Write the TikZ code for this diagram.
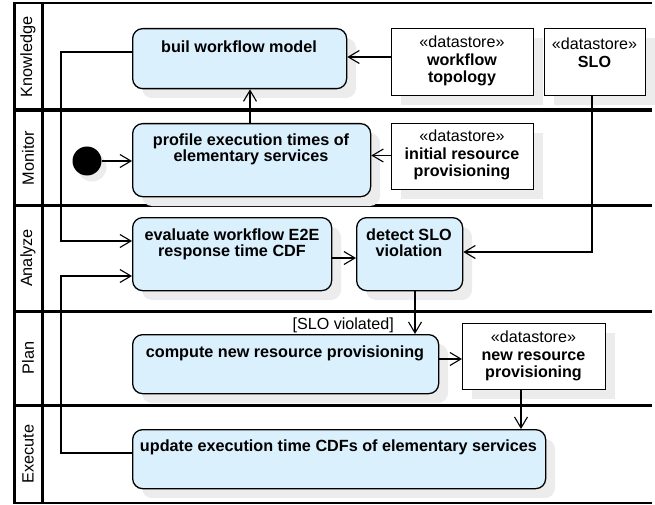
\documentclass[tikz,border=0pt]{standalone}
\usepackage{fontspec}
\setmainfont{Liberation Sans}
\usetikzlibrary{arrows.meta}
\definecolor{actfill}{RGB}{218,240,253}
\definecolor{shad}{RGB}{236,236,236}
\begin{document}
\begin{tikzpicture}[x=1pt,y=-1pt,
 act/.style={draw=black, line width=1.3pt, fill=actfill, rounded corners=10pt, inner sep=0pt, anchor=north west},
 store/.style={draw=black, line width=1.3pt, fill=white, inner sep=0pt, anchor=north west},
 shadowr/.style={fill=shad, rounded corners=10pt},
 shadows/.style={fill=shad},
 conn/.style={line width=1.1pt, -{Straight Barb[length=11pt,width=13pt,line width=1.1pt]}},
 lane/.style={line width=3pt},
 txt/.style={font=\fontsize{16.2}{16}\selectfont\bfseries, align=center, inner sep=0pt},
 stxt/.style={font=\fontsize{16.1}{17.5}\selectfont, align=center, inner sep=0pt},
 lanelbl/.style={font=\fontsize{16.3}{17}\selectfont, rotate=90, inner sep=0pt}
]
\useasboundingbox (0,0) rectangle (655,505);

% lanes
\draw[line width=2pt] (13,3) -- (652,3);
\draw[line width=2pt] (13,503) -- (652,503);
\draw[line width=4pt] (13,110.5) -- (652,110.5);
\draw[lane] (13,205) -- (652,205);
\draw[lane] (13,311) -- (652,311);
\draw[lane] (13,405) -- (652,405);
\draw[lane] (14,2) -- (14,504);
\draw[lane] (42,3) -- (42,503);

\node[lanelbl] (lk) at (28,57) {Knowledge};
\node[lanelbl] (lm) at (28,158) {Monitor};
\node[lanelbl] (la) at (28,258) {Analyze};
\node[lanelbl] (lp) at (28,358) {Plan};
\node[lanelbl] (le) at (28,454) {Execute};

% shadows
\fill[shadowr] (142,38) rectangle (356,98);
\fill[shadows] (401,38) rectangle (543,105);
\fill[shadows] (554,38) rectangle (655,105);
\fill[shadowr] (142,133) rectangle (380,206);
\fill[shadows] (401,133) rectangle (543,199);
\fill[shadowr] (142,227) rectangle (341,300);
\fill[shadowr] (366,227) rectangle (472,300);
\fill[shadowr] (142,344) rectangle (448,403);
\fill[shadows] (472,333) rectangle (615,399);
\fill[shadowr] (142,439) rectangle (555,498);
\fill[shad] (92,167) circle (14.5);

% boxes
\node[act, minimum width=214pt, minimum height=60pt] (buil) at (132,28) {};
\node[store, minimum width=142pt, minimum height=67pt] (topo) at (391,28) {};
\node[store, minimum width=101pt, minimum height=67pt] (slo) at (544,28) {};
\node[act, minimum width=238pt, minimum height=73pt] (profile) at (132,123) {};
\node[store, minimum width=142pt, minimum height=66pt] (initres) at (391,123) {};
\node[act, minimum width=199pt, minimum height=73pt] (evaluate) at (132,217) {};
\node[act, minimum width=106pt, minimum height=73pt] (detect) at (356,217) {};
\node[act, minimum width=306pt, minimum height=59pt] (compute) at (132,334) {};
\node[store, minimum width=143pt, minimum height=66pt] (newres) at (462,323) {};
\node[act, minimum width=413pt, minimum height=59pt] (update) at (132,429) {};
\node[circle, fill=black, minimum size=29pt, inner sep=0pt] (init) at (87,161) {};

% texts
\node[txt] (tbuil) at (239,47) {buil workflow model};
\node[stxt] (ttopo) at (462,61) {«datastore»\\\textbf{workflow}\\\textbf{topology}};
\node[stxt] (tslo) at (594.5,52.5) {«datastore»\\\textbf{SLO}};
\node[txt] (tprofile) at (251,149.5) {profile execution times of\\elementary services};
\node[stxt] (tinitres) at (462,155) {«datastore»\\\textbf{initial resource}\\\textbf{provisioning}};
\node[txt] (tevaluate) at (232,244.5) {evaluate workflow E2E\\response time CDF};
\node[txt] (tdetect) at (409,243) {detect SLO\\violation};
\node[txt] (tcompute) at (285,353) {compute new resource provisioning};
\node[stxt] (tnewres) at (533.5,356) {«datastore»\\\textbf{new resource}\\\textbf{provisioning}};
\node[txt] (tupdate) at (338.5,447) {update execution time CDFs of elementary services};
\node[stxt, anchor=east] (lviol) at (394,325) {[SLO violated]};

% connectors
\coordinate (k1) at (61,52);
\coordinate (k2) at (61,241);
\draw[conn] (buil.west |- k1) -- (k1) -- (k2) -- (evaluate.west |- k2);
\coordinate (e1) at (61,453);
\coordinate (e2) at (61,276);
\draw[conn] (update.west |- e1) -- (e1) -- (e2) -- (evaluate.west |- e2);
\coordinate (p1) at (250,123);
\draw[conn] (p1) -- (p1 |- buil.south);
\coordinate (t1) at (391,57);
\draw[conn] (t1) -- (t1 -| buil.east);
\coordinate (i1) at (391,155.5);
\draw[conn] (i1) -- (i1 -| profile.east);
\draw[conn] (init.east) -- (init.east -| profile.west);
\coordinate (v1) at (331,258);
\draw[conn] (v1) -- (v1 -| detect.west);
\coordinate (s1) at (592,95);
\coordinate (s2) at (592,252);
\draw[conn] (s1) -- (s2) -- (s2 -| detect.east);
\coordinate (d1) at (415,290);
\draw[conn] (d1) -- (d1 |- compute.north);
\coordinate (c1) at (438,359);
\draw[conn] (c1) -- (c1 -| newres.west);
\coordinate (n1) at (521,389);
\draw[conn] (n1) -- (n1 |- update.north);
\end{tikzpicture}
\end{document}
